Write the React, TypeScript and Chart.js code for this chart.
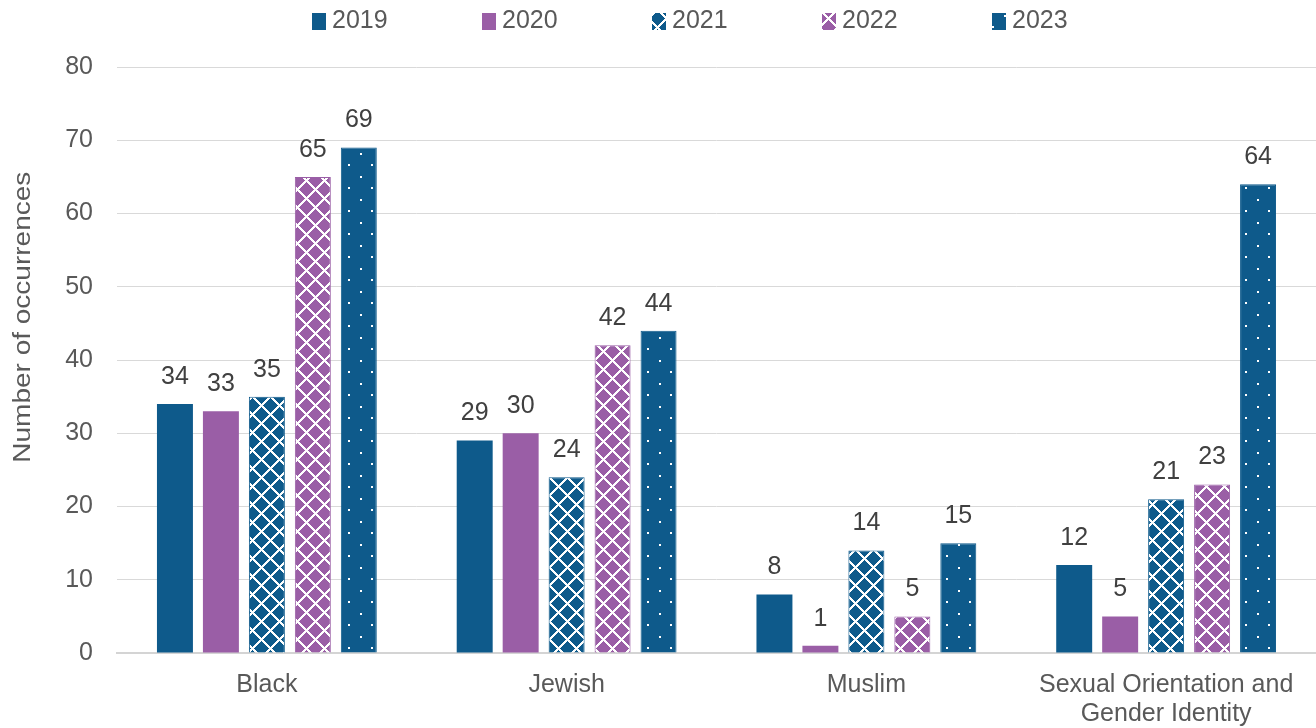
import React, { useEffect, useRef } from 'react';
import { Chart, registerables } from 'chart.js';

Chart.register(...registerables);

const categories: (string | string[])[] = ['Black', 'Jewish', 'Muslim', ['Sexual Orientation and', 'Gender Identity']];
const seriesNames = ['2019', '2020', '2021', '2022', '2023'];
const values2019 = [34, 29, 8, 12];
const values2020 = [33, 30, 1, 5];
const values2021 = [35, 24, 14, 21];
const values2022 = [65, 42, 5, 23];
const values2023 = [69, 44, 15, 64];
const yMin = 0;
const yMax = 80;
const yStep = 10;
const yTitle = 'Number of occurrences';

const BLUE = '#0E5A8B';
const PURPLE = '#9A5EA6';
const FONT = '"Liberation Sans", Arial, sans-serif';
const TEXT = '#595959';

function makeSolid(color: string) {
  return color;
}

function makeLattice(color: string, P = 18): CanvasPattern | string {
  const c = document.createElement('canvas');
  c.width = P;
  c.height = P;
  const g = c.getContext('2d');
  if (!g) return color;
  g.fillStyle = color;
  g.fillRect(0, 0, P, P);
  g.fillStyle = '#ffffff';
  const px = (x: number, y: number) => {
    const xx = ((x % P) + P) % P;
    const yy = ((y % P) + P) % P;
    g.fillRect(xx, yy, 1, 1);
  };
  for (let i = 0; i < P; i++) {
    px(i - 1, i);
    px(i, i);
    px(i + 1, i);
    px(P - i - 1, i);
    px(P - i, i);
    px(P - i + 1, i);
  }
  const p = g.createPattern(c, 'repeat');
  return p || color;
}

function makeDots(color: string, P = 23): CanvasPattern | string {
  const c = document.createElement('canvas');
  c.width = P;
  c.height = P;
  const g = c.getContext('2d');
  if (!g) return color;
  g.fillStyle = color;
  g.fillRect(0, 0, P, P);
  g.fillStyle = '#ffffff';
  g.fillRect(3, 3, 2, 2);
  g.fillRect(3 + Math.round(P / 2), 3 + Math.round(P / 2), 2, 2);
  const p = g.createPattern(c, 'repeat');
  return p || color;
}

const dataLabelPlugin = {
  id: 'dataLabels',
  afterDatasetsDraw(chart: any) {
    const ctx = chart.ctx;
    ctx.save();
    ctx.font = `25px ${FONT}`;
    ctx.fillStyle = '#404040';
    ctx.textAlign = 'center';
    ctx.textBaseline = 'middle';
    chart.data.datasets.forEach((ds: any, i: number) => {
      const meta = chart.getDatasetMeta(i);
      meta.data.forEach((bar: any, j: number) => {
        ctx.fillText(String(ds.data[j]), bar.x, bar.y - 27);
      });
    });
    ctx.restore();
  },
};

const yTitlePlugin = {
  id: 'yTitle',
  afterDraw(chart: any) {
    const ctx = chart.ctx;
    const area = chart.chartArea;
    ctx.save();
    ctx.translate(23, area.top + area.height * 0.427);
    ctx.rotate(-Math.PI / 2);
    ctx.scale(1, 0.85);
    ctx.font = `28px ${FONT}`;
    ctx.fillStyle = TEXT;
    ctx.textAlign = 'center';
    ctx.textBaseline = 'middle';
    ctx.fillText(yTitle, 0, 0);
    ctx.restore();
  },
};

const legendPlugin = {
  id: 'customLegend',
  afterDraw(chart: any) {
    const ctx = chart.ctx;
    ctx.save();
    ctx.font = `25px ${FONT}`;
    ctx.textAlign = 'left';
    ctx.textBaseline = 'middle';
    const startX = 312;
    const step = 170;
    const cy = 21;
    chart.data.datasets.forEach((ds: any, i: number) => {
      const x = startX + i * step;
      ctx.fillStyle = ds.backgroundColor;
      ctx.fillRect(x, cy - 8, 14, 17);
      ctx.fillStyle = TEXT;
      ctx.fillText(ds.label, x + 20, cy);
    });
    ctx.restore();
  },
};

export default function App() {
  const ref = useRef<HTMLCanvasElement | null>(null);

  useEffect(() => {
    const canvas = ref.current;
    if (!canvas) return;
    const fills = [
      makeSolid(BLUE),
      makeSolid(PURPLE),
      makeLattice(BLUE),
      makeLattice(PURPLE),
      makeDots(BLUE),
    ];
    const borders = [BLUE, PURPLE, BLUE, PURPLE, BLUE];
    const seriesValues = [values2019, values2020, values2021, values2022, values2023];
    const chart = new Chart(canvas, {
      type: 'bar',
      data: {
        labels: categories,
        datasets: seriesNames.map((name, i) => ({
          label: name,
          data: seriesValues[i],
          backgroundColor: fills[i] as any,
          borderColor: borders[i],
          borderWidth: i >= 2 ? 1 : 0,
          categoryPercentage: 0.7667,
          barPercentage: 0.7826,
        })),
      },
      options: {
        animation: false,
        responsive: false,
        devicePixelRatio: 1,
        layout: { padding: { top: 67, right: 0, bottom: 0, left: 0 } },
        plugins: {
          legend: { display: false },
          tooltip: { enabled: false },
          title: { display: false },
        },
        scales: {
          x: {
            afterFit(scale: any) {
              scale.height = 75;
            },
            grid: { display: false, drawTicks: false },
            border: { display: true, color: '#d4d4d4', width: 2 },
            ticks: {
              color: TEXT,
              font: { family: FONT, size: 25, lineHeight: 1.15 },
              padding: 18,
              maxRotation: 0,
              autoSkip: false,
            },
          },
          y: {
            min: yMin,
            max: yMax,
            afterFit(scale: any) {
              scale.width = 117;
            },
            grid: { color: '#d9d9d9', lineWidth: 1, drawTicks: false },
            border: { display: false },
            ticks: {
              stepSize: yStep,
              color: TEXT,
              font: { family: FONT, size: 25 },
              padding: 24,
            },
          },
        },
      },
      plugins: [dataLabelPlugin, yTitlePlugin, legendPlugin],
    });
    return () => chart.destroy();
  }, []);

  return (
    <div style={{ position: 'fixed', left: 0, top: 0, width: 1316, height: 728, background: '#fff' }}>
      <canvas ref={ref} width={1316} height={728} style={{ display: 'block', width: 1316, height: 728 }} />
    </div>
  );
}
